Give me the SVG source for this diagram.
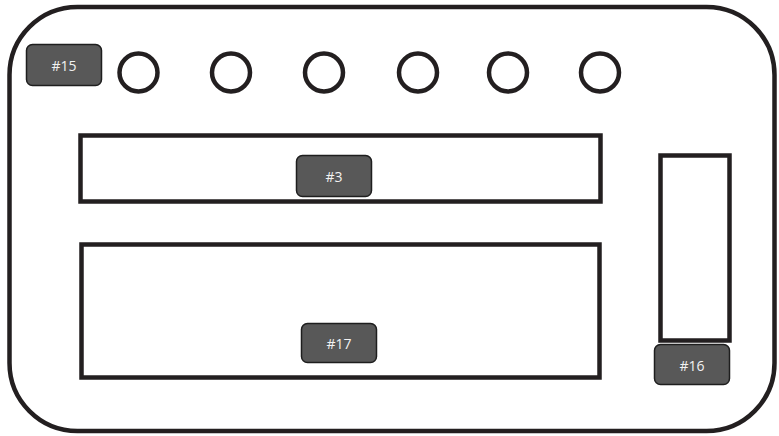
<svg xmlns="http://www.w3.org/2000/svg" width="779" height="436" viewBox="0 0 779 436">
<style>
.frame{fill:none;stroke:#231f20;stroke-width:4.5}
.box{fill:#fff;stroke:#231f20;stroke-width:4.5}
.dot{fill:#fff;stroke:#231f20;stroke-width:4.5}
.tag{fill:#585858;stroke:#1e1e1e;stroke-width:1.5}
.lbl{font-family:"Open Sans","Noto Sans",sans-serif;font-size:14px;fill:#f2f2f2;text-anchor:middle;dominant-baseline:central}
</style>
<rect width="779" height="436" fill="#fff"/>
<g id="device"><rect class="frame" x="9.5" y="7" width="765" height="424" rx="68" ry="68"/></g>
<g id="leds">
<circle class="dot" cx="138.5" cy="72.5" r="19"/>
<circle class="dot" cx="231" cy="72.5" r="19"/>
<circle class="dot" cx="324" cy="72.5" r="19"/>
<circle class="dot" cx="418" cy="72.5" r="19"/>
<circle class="dot" cx="508" cy="72.5" r="19"/>
<circle class="dot" cx="600" cy="72.5" r="19"/>
</g>
<g id="panel3"><rect class="box" x="80.5" y="135.5" width="520" height="66"/></g>
<g id="panel17"><rect class="box" x="81.5" y="244.5" width="518" height="133"/></g>
<g id="panel16"><rect class="box" x="660.5" y="155.5" width="69" height="185"/></g>
<g id="n15"><rect class="tag" x="26.5" y="44.5" width="75" height="41" rx="6"/><text class="lbl" x="64" y="65">#15</text></g>
<g id="n3"><rect class="tag" x="296.5" y="155.5" width="75" height="41" rx="6"/><text class="lbl" x="334" y="176">#3</text></g>
<g id="n17"><rect class="tag" x="301.5" y="323.5" width="75" height="39" rx="6"/><text class="lbl" x="339" y="343">#17</text></g>
<g id="n16"><rect class="tag" x="654.5" y="344.5" width="75" height="40" rx="6"/><text class="lbl" x="692" y="365">#16</text></g>
<g id="connectors"/>
</svg>
